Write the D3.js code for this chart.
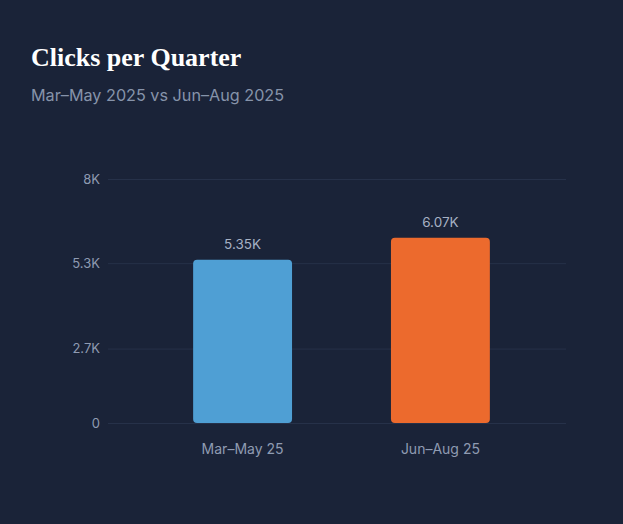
<!DOCTYPE html>
<html>
<head>
<meta charset="utf-8">
<script src="https://cdn.jsdelivr.net/npm/d3@7"></script>
<style>
  html, body { margin: 0; padding: 0; background: #1a2338; }
  #chart { width: 623px; height: 524px; }
</style>
</head>
<body>
<div id="chart"></div>
<script>
// Chart data
const categories = ["Mar–May 25", "Jun–Aug 25"];
const clicks = [5350, 6070];
const valueLabels = ["5.35K", "6.07K"];
const barColors = ["#4f9fd4", "#ec6a2d"];
const tickValues = [0, 2440, 5240, 8000];
const tickLabels = ["0", "2.7K", "5.3K", "8K"];

const width = 623, height = 524;

const svg = d3.select("#chart").append("svg")
    .attr("width", width)
    .attr("height", height);

svg.append("rect")
    .attr("width", width)
    .attr("height", height)
    .attr("fill", "#1a2338");

// Titles
svg.append("text")
    .attr("x", 31).attr("y", 66)
    .style("font-family", "'Liberation Serif', 'DejaVu Serif', serif")
    .style("font-weight", "bold")
    .style("font-size", "26px")
    .style("fill", "#ffffff")
    .text("Clicks per Quarter");

svg.append("text")
    .attr("x", 31).attr("y", 101)
    .style("font-family", "Inter, 'Noto Sans', sans-serif")
    .style("font-size", "16.2px")
    .style("fill", "#8693aa")
    .text("Mar–May 2025 vs Jun–Aug 2025");

// Scales
const y = d3.scaleLinear().domain([0, 8000]).range([423, 179]);
const x = d3.scaleBand().domain(categories).range([114, 569])
    .paddingInner(0.5).paddingOuter(0.4);

// Grid + y labels
const grid = svg.append("g");
grid.selectAll("line").data(tickValues).enter().append("line")
    .attr("x1", 108).attr("x2", 566)
    .attr("y1", d => y(d) + 0.5).attr("y2", d => y(d) + 0.5)
    .style("stroke", "#263149")
    .style("stroke-width", 1);

grid.selectAll("text").data(tickValues).enter().append("text")
    .attr("x", 100)
    .attr("y", d => y(d))
    .attr("dy", "0.35em")
    .attr("text-anchor", "end")
    .style("font-family", "Inter, 'Noto Sans', sans-serif")
    .style("font-size", "13px")
    .style("fill", "#8f9bb2")
    .text((d, i) => tickLabels[i]);

// Bars
const bars = svg.append("g");
bars.selectAll("rect").data(clicks).enter().append("rect")
    .attr("x", (d, i) => x(categories[i]))
    .attr("width", x.bandwidth())
    .attr("y", d => y(d))
    .attr("height", d => y(0) - y(d))
    .attr("rx", 4)
    .style("fill", (d, i) => barColors[i]);

bars.selectAll("text.val").data(clicks).enter().append("text")
    .attr("class", "val")
    .attr("x", (d, i) => x(categories[i]) + x.bandwidth() / 2)
    .attr("y", d => y(d) - 11)
    .attr("text-anchor", "middle")
    .style("font-family", "Inter, 'Noto Sans', sans-serif")
    .style("font-size", "13.5px")
    .style("fill", "#a6b1c4")
    .text((d, i) => valueLabels[i]);

// x labels
svg.append("g").selectAll("text").data(categories).enter().append("text")
    .attr("x", d => x(d) + x.bandwidth() / 2)
    .attr("y", 454)
    .attr("text-anchor", "middle")
    .style("font-family", "Inter, 'Noto Sans', sans-serif")
    .style("font-size", "14px")
    .style("fill", "#8f9bb2")
    .text(d => d);
</script>
</body>
</html>
